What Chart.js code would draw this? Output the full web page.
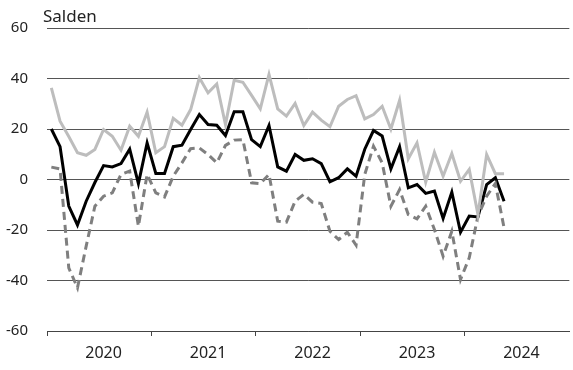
<!DOCTYPE html>
<html>
<head>
<meta charset="utf-8">
<script src="https://cdn.jsdelivr.net/npm/chart.js@4"></script>
<style>
  html, body { margin: 0; padding: 0; background: #fff; }
  #wrap { width: 573px; height: 370px; position: relative; }
</style>
</head>
<body>
<div id="wrap"><canvas id="myChart"></canvas></div>
<script>
// years shown on the x axis, one category per month
var years = ['2020', '2021', '2022', '2023', '2024'];
var months = [];
years.forEach(function (y) {
  for (var m = 1; m <= 12; m++) months.push(y + '-' + (m < 10 ? '0' + m : m));
});

var yTicks = [-60, -40, -20, 0, 20, 40, 60];

// black line
var seriesBlack = [20, 13, -10.5, -18, -8.6, -1.2, 5.5, 5, 6.3, 12, -1.6, 14.5,
  2.4, 2.4, 13, 13.6, 19.8, 25.7, 21.8, 21.5, 17.4, 26.8, 26.8, 15.8,
  13, 21.4, 5, 3.3, 9.9, 7.6, 8.2, 6.3, -0.9, 0.7, 4.2, 1.3,
  12, 19.4, 17.2, 4.2, 13, -3.3, -2, -5.5, -4.6, -15.4, -5, -20.9,
  -14.5, -14.8, -2, 0.7, -8.6];

// light grey line
var seriesLight = [36.3, 23.1, 17, 10.6, 9.6, 11.9, 19.8, 17.1, 11.6, 21.1, 17.1, 26.7,
  10.6, 13, 24.2, 21.5, 27.7, 40.3, 34.3, 37.8, 21.8, 39.3, 38.5, 33.3,
  28, 41.6, 28, 25.1, 30.1, 21.4, 26.7, 23.5, 20.9, 29, 31.7, 33.2,
  24, 25.7, 29, 20, 31.4, 8.2, 14.5, -1.1, 10.8, 1.3, 10.3, -0.7,
  4, -13.9, 9.9, 2.3, 2.3];

// dashed grey line
var seriesDashed = [4.9, 4.2, -35, -42.9, -26.4, -10.6, -6.6, -5.3, 2, 3.3, -18.5, 2,
  -5.3, -6.9, 1.3, 6.6, 12.2, 12.5, 9.9, 6.6, 13.5, 15.6, 15.8, -1.3,
  -1.6, 2, -16.5, -16.9, -8.6, -5.9, -9, -9.5, -20.5, -23.8, -20.9, -26,
  2, 13.2, 6.6, -10.6, -4, -13.9, -15.6, -10.6, -19.8, -30.4, -20.5, -39.6,
  -31, -14.5, -6.6, -1.6, -19.1];

var FONT = '"Noto Sans", sans-serif';

// writes "Salden" above the y axis
var unitLabel = {
  id: 'unitLabel',
  afterDraw: function (chart) {
    var c = chart.ctx;
    c.save();
    c.font = '17px ' + FONT;
    c.fillStyle = '#222';
    c.textAlign = 'left';
    c.textBaseline = 'alphabetic';
    c.fillText('Salden', chart.chartArea.left - 4, 22);
    c.restore();
  }
};

var ctx = document.getElementById('myChart');
var myChart = new Chart(ctx, {
  type: 'line',
  data: {
    labels: months,
    datasets: [
      { data: seriesLight, borderColor: '#bdbdbd', borderWidth: 3, pointRadius: 0, tension: 0 },
      { data: seriesDashed, borderColor: '#7f7f7f', borderWidth: 3, borderDash: [8, 5], pointRadius: 0, tension: 0 },
      { data: seriesBlack, borderColor: '#000', borderWidth: 3, pointRadius: 0, tension: 0 }
    ]
  },
  options: {
    responsive: true,
    maintainAspectRatio: false,
    animation: false,
    devicePixelRatio: 1,
    layout: { padding: { top: 28, left: 0, right: 0, bottom: 0 } },
    plugins: { legend: { display: false }, tooltip: { enabled: false } },
    scales: {
      x: {
        type: 'category',
        offset: true,
        border: { display: true, color: '#444', width: 1 },
        grid: {
          offset: true,
          drawOnChartArea: false,
          drawTicks: true,
          tickLength: 5,
          color: function (c) { return c.index % 12 === 0 ? '#444' : 'rgba(0,0,0,0)'; }
        },
        ticks: {
          autoSkip: false,
          maxRotation: 0,
          minRotation: 0,
          padding: 8,
          color: '#222',
          font: { family: FONT, size: 16 },
          callback: function (v, i) { return i % 12 === 6 ? years[Math.floor(i / 12)] : ''; }
        },
        afterFit: function (s) { s.height = 39; }
      },
      y: {
        min: -60,
        max: 60,
        border: { display: false },
        grid: { color: '#555', lineWidth: 1, drawTicks: false },
        afterBuildTicks: function (s) { s.ticks = yTicks.map(function (v) { return { value: v }; }); },
        ticks: {
          padding: 19,
          color: '#222',
          font: { family: FONT, size: 15 }
        },
        afterFit: function (s) { s.width = 47; }
      }
    }
  },
  plugins: [unitLabel]
});
</script>
</body>
</html>
